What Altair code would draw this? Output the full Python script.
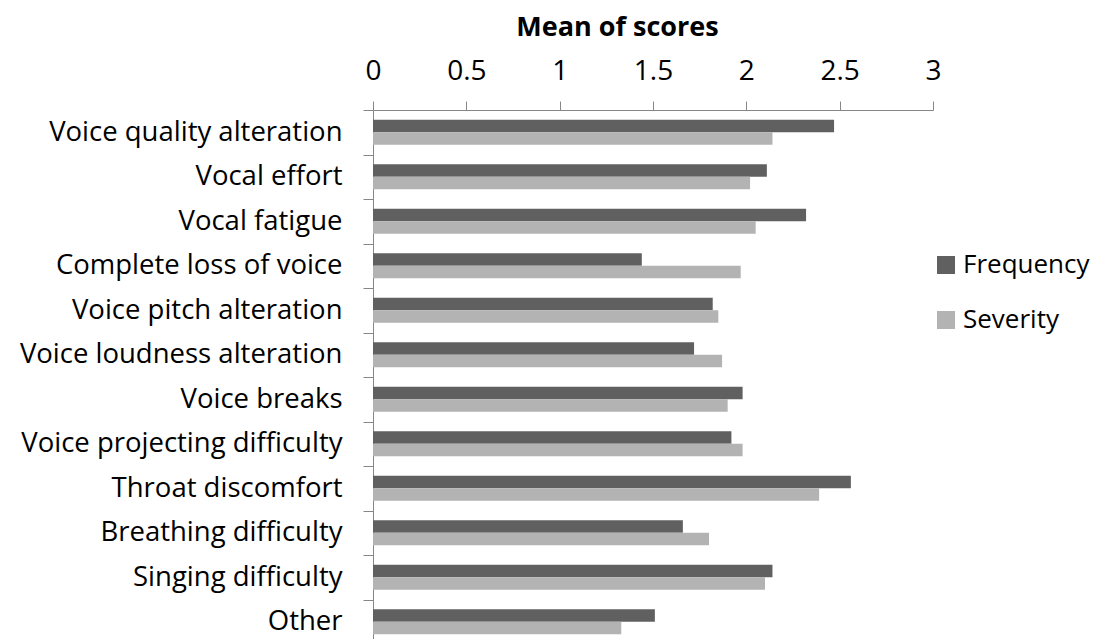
import altair as alt
import pandas as pd

categories = [
    "Voice quality alteration", "Vocal effort", "Vocal fatigue",
    "Complete loss of voice", "Voice pitch alteration",
    "Voice loudness alteration", "Voice breaks",
    "Voice projecting difficulty", "Throat discomfort",
    "Breathing difficulty", "Singing difficulty", "Other",
]
frequency = [2.47, 2.11, 2.32, 1.44, 1.82, 1.72, 1.98, 1.92, 2.56, 1.66, 2.14, 1.51]
severity = [2.14, 2.02, 2.05, 1.97, 1.85, 1.87, 1.90, 1.98, 2.39, 1.80, 2.10, 1.33]
series = ["Frequency", "Severity"]
colors = ["#606060", "#b3b3b3"]
tick_values = [0, 0.5, 1, 1.5, 2, 2.5, 3]

rows = []
for c, f, s in zip(categories, frequency, severity):
    rows.append({"Symptom": c, "Series": "Frequency", "Score": f})
    rows.append({"Symptom": c, "Series": "Severity", "Score": s})
df = pd.DataFrame(rows)

FONT = "Open Sans"
AX = "#868686"

chart = alt.Chart(df).mark_bar().encode(
    y=alt.Y(
        "Symptom:N", sort=categories, title=None,
        scale=alt.Scale(paddingInner=0, paddingOuter=0),
        axis=alt.Axis(tickBand="extent", tickSize=10, labelPadding=21,
                      labelFontSize=27.5, labelFont=FONT, labelColor="#000000",
                      domainColor=AX, tickColor=AX, grid=False, labelLimit=400),
    ),
    yOffset=alt.YOffset("Series:N", sort=series,
                        scale=alt.Scale(paddingInner=0, paddingOuter=0.78)),
    x=alt.X(
        "Score:Q", title="Mean of scores",
        scale=alt.Scale(domain=[0, 3], nice=False),
        axis=alt.Axis(orient="top", values=tick_values, format=".1~f",
                      tickSize=9, labelPadding=22, labelBaseline="alphabetic",
                      labelFontSize=28, labelFont=FONT,
                      labelColor="#000000", domainColor=AX, tickColor=AX,
                      grid=False, titleFont=FONT, titleFontSize=27,
                      titleFontWeight="bold", titleColor="#000000",
                      titleX=244, titleY=-75, titleBaseline="alphabetic",
                      titleAlign="center", titleAnchor="start",
                      labelFlush=False, labelOverlap=False),
    ),
    color=alt.Color(
        "Series:N", scale=alt.Scale(domain=series, range=colors),
        legend=alt.Legend(title=None, orient="none", legendX=560, legendY=142,
                          symbolType="square", symbolSize=324,
                          symbolStrokeWidth=0, labelFontSize=26,
                          labelFont=FONT, labelColor="#000000",
                          labelOffset=4, rowPadding=29, labelLimit=300),
    ),
).properties(
    width=560, height=534,
    autosize=alt.AutoSizeParams(type="none"),
    padding={"left": 365, "top": 102, "right": 161, "bottom": 4},
).configure_view(stroke=None)

chart.save("out.html", embed_options={"renderer": "svg", "actions": False})
